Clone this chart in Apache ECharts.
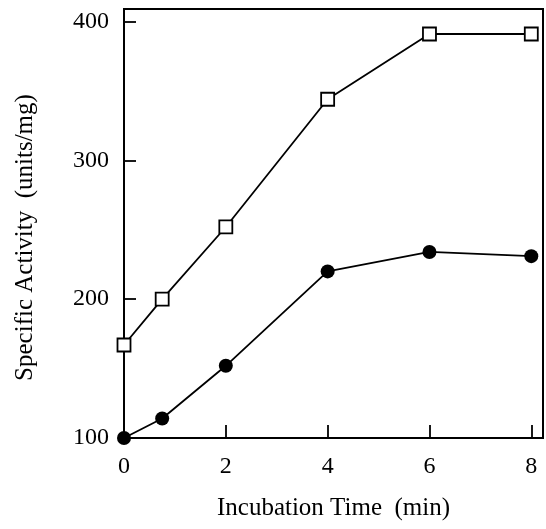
<!DOCTYPE html>
<html>
<head>
<meta charset="utf-8">
<script src="https://cdn.jsdelivr.net/npm/echarts@6/dist/echarts.min.js"></script>
<style>html,body{margin:0;padding:0;background:#fff;}#c{width:546px;height:529px;}</style>
</head>
<body>
<div id="c"></div>
<script>
const timeSquares = [0, 0.75, 2, 4, 6, 8];
const activitySquares = [167, 200, 252, 344, 391, 391];
const timeCircles = [0, 0.75, 2, 4, 6, 8];
const activityCircles = [100, 114, 152, 220, 234, 231];
const xTicks = [0, 2, 4, 6, 8];
const yTicks = [100, 200, 300, 400];

const font = '"Liberation Serif", "Times New Roman", serif';
const chart = echarts.init(document.getElementById('c'));
const pairs = (xs, ys) => xs.map((x, i) => [x, ys[i]]);
chart.setOption({
  animation: false,
  backgroundColor: '#fff',
  grid: { left: 124, right: 2, top: 9, bottom: 91, show: true, borderColor: '#000', borderWidth: 2, backgroundColor: 'transparent' },
  xAxis: {
    type: 'value', min: 0, max: 8.23, interval: 2,
    name: 'Incubation Time  (min)', nameLocation: 'middle', nameGap: 58,
    nameTextStyle: { fontFamily: font, fontSize: 25, color: '#000' },
    axisLine: { show: true, lineStyle: { color: '#000', width: 2 } },
    axisTick: { show: true, inside: true, length: 13, lineStyle: { color: '#000', width: 1.8 } },
    axisLabel: { fontFamily: font, fontSize: 24, color: '#000', margin: 17,
      formatter: v => xTicks.includes(v) ? String(v) : '' },
    splitLine: { show: false }
  },
  yAxis: {
    type: 'value', min: 100, max: 409, interval: 100,
    name: 'Specific Activity  (units/mg)', nameLocation: 'middle', nameGap: 86,
    nameTextStyle: { fontFamily: font, fontSize: 25, color: '#000', padding: [0, 28, 0, 0] },
    axisLine: { show: true, lineStyle: { color: '#000', width: 2 } },
    axisTick: { show: true, inside: true, length: 12, lineStyle: { color: '#000', width: 1.8 } },
    axisLabel: { fontFamily: font, fontSize: 24, color: '#000', margin: 15,
      formatter: v => yTicks.includes(v) ? String(v) : '' },
    splitLine: { show: false }
  },
  series: [
    {
      type: 'line', data: pairs(timeSquares, activitySquares), clip: false,
      symbol: 'rect', symbolSize: 13,
      lineStyle: { color: '#000', width: 1.8 },
      itemStyle: { color: '#fff', borderColor: '#000', borderWidth: 1.8 },
      z: 3
    },
    {
      type: 'line', data: pairs(timeCircles, activityCircles), clip: false,
      symbol: 'circle', symbolSize: 14,
      lineStyle: { color: '#000', width: 1.8 },
      itemStyle: { color: '#000', borderColor: '#000', borderWidth: 0 },
      z: 3
    }
  ]
});
</script>
</body>
</html>
